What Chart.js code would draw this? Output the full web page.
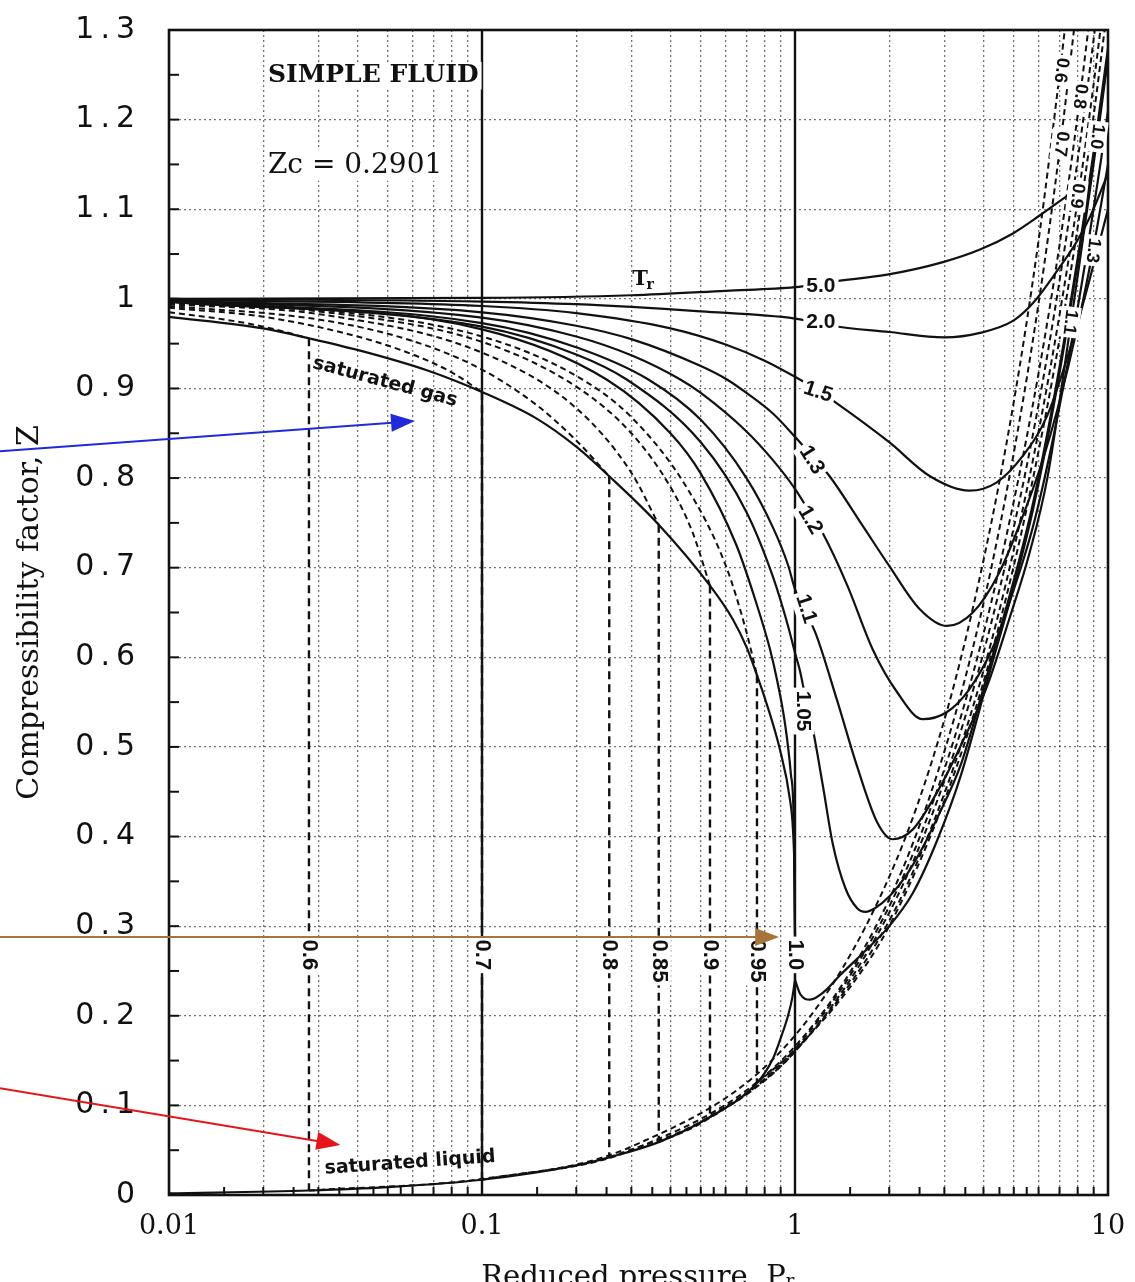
<!DOCTYPE html>
<html><head><meta charset="utf-8">
<script src="https://cdn.jsdelivr.net/npm/chart.js@4.4.0/dist/chart.umd.min.js"></script>
<style>html,body{margin:0;padding:0;background:#fff;overflow:hidden}canvas{display:block}</style>
</head><body>
<canvas id="c" width="1135" height="1282"></canvas>
<script>
// ---------------- axis ticks ----------------
const prTicks = [0.01, 0.1, 1, 10];
const prTickLabels = ["0.01", "0.1", "1", "10"];
const zTicks = [0, 0.1, 0.2, 0.3, 0.4, 0.5, 0.6, 0.7, 0.8, 0.9, 1.0, 1.1, 1.2, 1.3];
const T = "\u2009.\u2009";
const zTickLabels = ["0", "0"+T+"1", "0"+T+"2", "0"+T+"3", "0"+T+"4", "0"+T+"5", "0"+T+"6",
  "0"+T+"7", "0"+T+"8", "0"+T+"9", "1", "1"+T+"1", "1"+T+"2", "1"+T+"3"];
const majorPr = [0.1, 1];

// ---------------- series: [Pr, Z] ----------------
const satGas = [[0.01,0.98],[0.02,0.967],[0.028,0.956],[0.04,0.943],[0.067,0.92],[0.1,0.896],[0.15,0.866],[0.2,0.835],[0.255,0.802],[0.367,0.748],[0.535,0.68],[0.634,0.642],[0.703,0.61],[0.756,0.58],[0.8,0.555],[0.895,0.497],[0.964,0.441],[0.985,0.408],[0.996,0.36],[1.0,0.29]];
const satLiquid = [[0.01,0.0018],[0.028,0.005],[0.05,0.0088],[0.1,0.017],[0.2,0.033],[0.255,0.042],[0.367,0.059],[0.535,0.087],[0.756,0.125],[0.85,0.152],[0.9,0.175],[0.95,0.2],[0.98,0.22],[1.0,0.24]];

const tr060Vap = [[0.01,0.985],[0.015,0.977],[0.02,0.969],[0.028,0.956]];
const tr060Liq = [[0.028,0.005],[0.1,0.018],[0.3,0.054],[1,0.178],[2,0.355],[3,0.53],[4,0.708],[5,0.885],[6,1.065],[7,1.25],[7.5,1.34]];
const tr070Vap = [[0.01,0.99],[0.02,0.98],[0.04,0.958],[0.06,0.938],[0.08,0.918],[0.1,0.896]];
const tr070Liq = [[0.1,0.017],[0.3,0.05],[1,0.166],[2,0.33],[3,0.495],[4,0.66],[5,0.828],[6,0.995],[7,1.165],[8,1.335]];
const tr080Vap = [[0.01,0.992],[0.03,0.977],[0.06,0.953],[0.1,0.921],[0.15,0.881],[0.2,0.842],[0.255,0.802]];
const tr080Liq = [[0.255,0.042],[0.5,0.082],[1,0.163],[2,0.322],[3,0.475],[4,0.626],[5,0.774],[6,0.917],[7,1.06],[8,1.205],[9,1.35]];
const tr085Vap = [[0.01,0.994],[0.03,0.983],[0.1,0.94],[0.2,0.878],[0.3,0.806],[0.367,0.748]];
const tr085Liq = [[0.367,0.059],[0.5,0.08],[1,0.16],[2,0.315],[3,0.462],[4,0.605],[5,0.745],[6,0.882],[7,1.02],[8,1.155],[9,1.29],[9.5,1.36]];
const tr090Vap = [[0.01,0.995],[0.03,0.986],[0.1,0.952],[0.2,0.902],[0.3,0.85],[0.4,0.79],[0.47,0.74],[0.535,0.68]];
const tr090Liq = [[0.535,0.087],[0.7,0.113],[1,0.16],[2,0.306],[3,0.448],[4,0.585],[5,0.72],[6,0.852],[7,0.982],[8,1.11],[9,1.24],[10,1.37]];
const tr095Vap = [[0.01,0.996],[0.03,0.988],[0.1,0.958],[0.2,0.914],[0.3,0.868],[0.45,0.79],[0.6,0.703],[0.7,0.628],[0.756,0.58]];
const tr095Liq = [[0.756,0.125],[1,0.162],[1.5,0.232],[2,0.3],[3,0.44],[4,0.572],[5,0.702],[6,0.83],[7,0.955],[8,1.08],[9,1.205],[10,1.33]];

const tr100Vap = [[0.01,0.997],[0.1,0.966],[0.25,0.91],[0.4,0.85],[0.5,0.805],[0.65,0.725],[0.75,0.662],[0.832,0.609],[0.876,0.575],[0.93,0.525],[0.97,0.47],[0.99,0.42],[1.0,0.29]];
const tr100Sup = [[1.0,0.24],[1.04,0.224],[1.117,0.218],[1.25,0.228],[1.39,0.245],[1.65,0.27],[2.0,0.3],[2.38,0.337],[2.84,0.395],[3.4,0.47],[4.2,0.585],[5.1,0.69],[5.76,0.765],[6.66,0.875],[8,1.04],[9.22,1.185],[10,1.27]];
const tr105 = [[0.01,0.997],[0.1,0.969],[0.2,0.938],[0.29,0.91],[0.5,0.84],[0.7,0.762],[0.85,0.69],[0.95,0.635],[1.0,0.605],[1.037,0.585],[1.08,0.555],[1.14,0.52],[1.23,0.455],[1.32,0.392],[1.45,0.342],[1.58,0.32],[1.68,0.316],[1.8,0.32],[2.0,0.333],[2.3,0.36],[2.56,0.388],[2.84,0.42],[3.4,0.482],[4.2,0.592],[5.1,0.697],[5.76,0.772],[6.66,0.882],[8,1.045],[9.22,1.19],[10,1.28]];
const tr110 = [[0.01,0.997],[0.1,0.973],[0.2,0.946],[0.34,0.91],[0.5,0.865],[0.7,0.8],[0.85,0.745],[0.95,0.703],[1.0,0.676],[1.08,0.65],[1.16,0.628],[1.36,0.553],[1.58,0.478],[1.83,0.416],[2.05,0.397],[2.38,0.408],[2.84,0.449],[3.37,0.5],[4.1,0.567],[4.86,0.645],[5.6,0.715],[6.4,0.8],[7.56,0.966],[8.5,1.09],[9.5,1.21],[10,1.27]];
const tr120 = [[0.01,0.998],[0.1,0.979],[0.2,0.958],[0.3,0.937],[0.43,0.91],[0.5,0.895],[0.7,0.852],[0.85,0.82],[1.0,0.788],[1.1,0.765],[1.22,0.74],[1.47,0.68],[1.77,0.609],[2.12,0.561],[2.56,0.531],[3.06,0.539],[3.6,0.564],[4.3,0.612],[4.97,0.673],[5.75,0.745],[6.5,0.825],[7.5,0.935],[8.5,1.045],[9.5,1.155],[10,1.21]];
const tr130 = [[0.01,0.998],[0.1,0.985],[0.2,0.97],[0.3,0.955],[0.5,0.925],[0.606,0.91],[0.7,0.895],[0.85,0.872],[1.0,0.846],[1.13,0.825],[1.29,0.802],[1.65,0.746],[2.0,0.702],[2.5,0.654],[3.06,0.635],[3.7,0.65],[4.5,0.695],[5.35,0.758],[6.2,0.821],[6.9,0.877],[8.0,0.97],[8.95,1.054],[10,1.15]];
const tr150 = [[0.01,0.999],[0.1,0.992],[0.2,0.984],[0.4,0.967],[0.6,0.949],[0.8,0.931],[1.0,0.913],[1.18,0.898],[1.34,0.885],[2.0,0.84],[2.7,0.802],[3.6,0.786],[4.4,0.795],[5.35,0.825],[6.4,0.87],[7.8,0.96],[9.1,1.045],[10,1.1]];
const tr200 = [[0.01,1.0],[0.1,0.997],[0.2,0.994],[0.5,0.986],[1.0,0.978],[1.3,0.97],[2.0,0.963],[3.0,0.957],[3.9,0.962],[5.0,0.976],[5.75,0.995],[6.9,1.032],[7.95,1.064],[8.8,1.093],[10,1.14]];
const tr500 = [[0.01,1.0],[0.1,1.001],[0.3,1.004],[0.6,1.009],[1.0,1.013],[1.3,1.019],[1.97,1.027],[2.97,1.041],[3.9,1.055],[4.97,1.073],[6.05,1.093],[7.4,1.115]];

// ---------------- annotations (data coordinates) ----------------
const curveLabels = [
  {text:"5.0", pr:1.21, z:1.0145, rot:0},
  {text:"2.0", pr:1.21, z:0.974, rot:0},
  {text:"1.5", pr:1.185, z:0.896, rot:18},
  {text:"1.3", pr:1.13, z:0.82, rot:58},
  {text:"1.2", pr:1.117, z:0.753, rot:60},
  {text:"1.1", pr:1.084, z:0.654, rot:72},
  {text:"1.05", pr:1.06, z:0.54, rot:90}
];
const satLabels = [
  {text:"0.6", pr:0.028}, {text:"0.7", pr:0.1}, {text:"0.8", pr:0.255}, {text:"0.85", pr:0.367},
  {text:"0.9", pr:0.535}, {text:"0.95", pr:0.756}, {text:"1.0", pr:1.0}
];
const satLabelZ = 0.285;
const highLabels = [
  {text:"0.6", pr:7.08, z:1.255}, {text:"0.7", pr:7.08, z:1.173}, {text:"0.8", pr:8.14, z:1.226},
  {text:"0.9", pr:7.96, z:1.115}, {text:"1.0", pr:9.22, z:1.181}, {text:"1.3", pr:8.95, z:1.054},
  {text:"1.1", pr:7.56, z:0.974}
];
const arrows = [
  {tailZ:0.83, pr:0.0611, z:0.8637, color:"#1f2bd6"},
  {tailZ:0.288, pr:0.89, z:0.288, color:"#a8743a"},
  {tailZ:0.119, pr:0.0353, z:0.0559, color:"#e5161b"}
];

// ---------------- build datasets ----------------
const pts = a => a.map(([x, y]) => ({x, y}));
const vert = (vap, liq) => [{x: vap[vap.length-1][0], y: vap[vap.length-1][1]}, {x: liq[0][0], y: liq[0][1]}];
const solid = (a, w) => ({data: pts(a), borderColor:"#111", borderWidth: w || 2.2, cubicInterpolationMode:"monotone"});
const dashed = a => ({data: pts(a), borderColor:"#111", borderWidth: 2, borderDash:[6,4], cubicInterpolationMode:"monotone"});
const vline = (vap, liq) => ({data: vert(vap, liq), borderColor:"#111", borderWidth: 2.4, borderDash:[8,5], tension: 0});

const datasets = [];
majorPr.forEach(v => datasets.push({data:[{x:v, y:0}, {x:v, y:1.3}], borderColor:"#111", borderWidth:2.4, tension:0}));
[[tr060Vap,tr060Liq],[tr070Vap,tr070Liq],[tr080Vap,tr080Liq],[tr085Vap,tr085Liq],[tr090Vap,tr090Liq],[tr095Vap,tr095Liq]]
  .forEach(([v, l]) => { datasets.push(dashed(v)); datasets.push(vline(v, l)); datasets.push(dashed(l)); });
datasets.push(solid(satGas));
datasets.push(solid(satLiquid));
datasets.push(solid(tr100Vap));
datasets.push({data: vert(tr100Vap, tr100Sup), borderColor:"#111", borderWidth:2.2, tension:0});
datasets.push(solid(tr100Sup));
[tr105, tr110, tr120, tr130, tr150, tr200, tr500].forEach(a => datasets.push(solid(a)));
datasets.forEach(d => { d.showLine = true; d.pointRadius = 0; d.fill = false; });

// ---------------- plugins ----------------
function textAt(ctx, x, y, text, font, rot, align, bg) {
  ctx.save();
  ctx.translate(x, y);
  ctx.rotate((rot || 0) * Math.PI / 180);
  ctx.font = font;
  ctx.textAlign = align || "center";
  ctx.textBaseline = "middle";
  const w = ctx.measureText(text).width;
  const h = parseFloat(font.match(/(\d+(\.\d+)?)px/)[1]);
  if (bg) {
    ctx.fillStyle = "#fff";
    const x0 = ctx.textAlign === "left" ? -3 : ctx.textAlign === "right" ? -w - 3 : -w / 2 - 3;
    ctx.fillRect(x0, -h * 0.55, w + 6, h * 1.1);
  }
  ctx.fillStyle = "#111";
  ctx.fillText(text, 0, 0);
  ctx.restore();
}

const decor = {
  id: "decor",
  afterDatasetsDraw(chart) {
    const {ctx, chartArea: a, scales: {x, y}} = chart;
    ctx.save();
    ctx.strokeStyle = "#111"; ctx.lineWidth = 2.6;
    ctx.strokeRect(a.left, a.top, a.right - a.left, a.bottom - a.top);
    ctx.lineWidth = 2;
    for (let k = 1; k < 26; k++) {
      const py = y.getPixelForValue(k * 0.05);
      ctx.beginPath(); ctx.moveTo(a.left, py); ctx.lineTo(a.left + 10, py); ctx.stroke();
    }
    [0.01, 0.1, 1].forEach(d => [1.5,2,2.5,3,3.5,4,4.5,5,5.5,6,7,8,9].forEach(m => {
      const px = x.getPixelForValue(d * m);
      ctx.beginPath(); ctx.moveTo(px, a.bottom); ctx.lineTo(px, a.bottom - 8); ctx.stroke();
    }));
    ctx.restore();

    const numFont = "bold 21px 'Liberation Sans'";
    curveLabels.forEach(l => textAt(ctx, x.getPixelForValue(l.pr), y.getPixelForValue(l.z), l.text, numFont, l.rot, "center", true));
    satLabels.forEach(l => textAt(ctx, x.getPixelForValue(l.pr), y.getPixelForValue(satLabelZ), l.text, "bold 22px 'Liberation Sans'", 90, "left", true));
    highLabels.forEach(l => textAt(ctx, x.getPixelForValue(l.pr), y.getPixelForValue(l.z), l.text, "bold 18px 'Liberation Sans'", 97, "center", true));

    textAt(ctx, x.getPixelForValue(0.0207), y.getPixelForValue(1.249), "SIMPLE FLUID", "bold 25px 'DejaVu Serif'", 0, "left", true);
    textAt(ctx, x.getPixelForValue(0.0207), y.getPixelForValue(1.149), "Zc = 0.2901", "28px 'DejaVu Serif'", 0, "left", true);
    textAt(ctx, x.getPixelForValue(0.049), y.getPixelForValue(0.907), "saturated gas", "bold 19px 'DejaVu Sans'", 15, "center", false);
    textAt(ctx, x.getPixelForValue(0.0589), y.getPixelForValue(0.0358), "saturated liquid", "bold 19px 'DejaVu Sans'", -4, "center", false);
    const tx = x.getPixelForValue(0.32), ty = y.getPixelForValue(1.022);
    textAt(ctx, tx, ty, "T", "bold 21px 'DejaVu Serif'", 0, "center", false);
    textAt(ctx, tx + 10, ty + 6, "r", "bold 14px 'DejaVu Serif'", 0, "center", false);
  },
  afterDraw(chart) {
    const {ctx, scales: {x, y}} = chart;
    arrows.forEach(ar => {
      const x0 = 0, y0 = y.getPixelForValue(ar.tailZ);
      const x1 = x.getPixelForValue(ar.pr), y1 = y.getPixelForValue(ar.z);
      const ang = Math.atan2(y1 - y0, x1 - x0), L = 24, W = 9;
      const c = Math.cos(ang), s = Math.sin(ang);
      ctx.save();
      ctx.strokeStyle = ar.color; ctx.fillStyle = ar.color; ctx.lineWidth = 2;
      ctx.beginPath(); ctx.moveTo(x0, y0); ctx.lineTo(x1 - L * c * 0.8, y1 - L * s * 0.8); ctx.stroke();
      ctx.beginPath(); ctx.moveTo(x1, y1);
      ctx.lineTo(x1 - L * c + W * s, y1 - L * s - W * c);
      ctx.lineTo(x1 - L * c - W * s, y1 - L * s + W * c);
      ctx.closePath(); ctx.fill();
      ctx.restore();
    });
  }
};

const prGrid = [];
[0.01, 0.1, 1].forEach(d => { for (let m = 1; m < 10; m++) prGrid.push(+(d * m).toPrecision(3)); });
prGrid.push(10);

new Chart(document.getElementById("c"), {
  type: "scatter",
  data: {datasets},
  options: {
    responsive: false, animation: false, events: [],
    layout: {padding: {left: 0, right: 27, top: 30, bottom: 0}},
    plugins: {legend: {display: false}, tooltip: {enabled: false}},
    scales: {
      x: {
        type: "logarithmic", min: 0.01, max: 10,
        afterBuildTicks: s => { s.ticks = prGrid.map(v => ({value: v})); },
        afterFit: s => { s.height = 87; s.paddingLeft = 0; s.paddingRight = 0; },
        grid: {color: "rgba(0,0,0,0.55)", lineWidth: 1.3, drawTicks: false},
        border: {display: false, dash: [2, 3]},
        ticks: {
          autoSkip: false, maxRotation: 0, padding: 16, color: "#111",
          font: {family: "'DejaVu Serif'", size: 27},
          callback: v => { const k = prTicks.findIndex(t => Math.abs(t - v) / t < 1e-6); return k >= 0 ? prTickLabels[k] : ""; }
        },
        title: {display: true, text: "Reduced pressure, P\u1D63", color: "#111",
          font: {family: "'DejaVu Serif'", size: 29, lineHeight: 0.25}, padding: 0}
      },
      y: {
        type: "linear", min: 0, max: 1.3,
        afterBuildTicks: s => { s.ticks = zTicks.map(v => ({value: v})); },
        afterFit: s => { s.width = 169; s.paddingTop = 0; s.paddingBottom = 0; },
        grid: {color: "rgba(0,0,0,0.55)", lineWidth: 1.3, drawTicks: false},
        border: {display: false, dash: [2, 3]},
        ticks: {
          padding: 34, color: "#111",
          font: {family: "'DejaVu Sans'", size: 30},
          callback: v => { const k = zTicks.findIndex(t => Math.abs(t - v) < 1e-6); return k >= 0 ? zTickLabels[k] : ""; }
        },
        title: {display: true, text: "Compressibility factor, Z", color: "#111",
          font: {family: "'DejaVu Serif'", size: 30}, padding: {top: 12, bottom: 0}}
      }
    }
  },
  plugins: [decor]
});
</script>
</body></html>
